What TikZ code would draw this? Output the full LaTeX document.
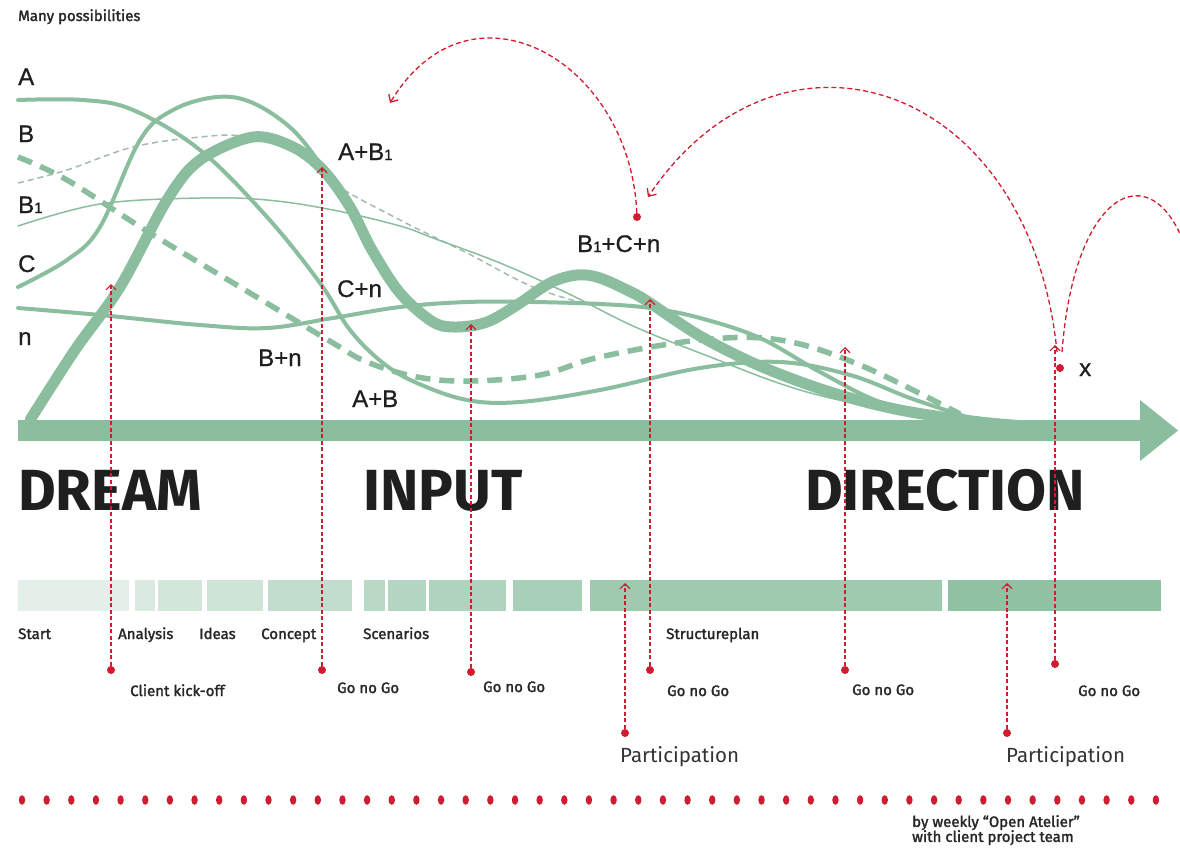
\documentclass[tikz,border=0pt]{standalone}
\usepackage{fontspec}
\setmainfont{Fira Sans}
\newfontfamily\curvefont[FakeBold=0.8]{Liberation Sans}
\newfontfamily\smallfont[FakeBold=1.8]{Fira Sans}
\usetikzlibrary{arrows.meta}
\definecolor{sage}{RGB}{138,190,158}
\definecolor{sagegrey}{RGB}{165,185,175}
\definecolor{redmark}{RGB}{208,28,48}
\newcommand{\one}{{\fontsize{15}{15}\selectfont 1}}

\begin{document}
\begin{tikzpicture}[x=1pt,y=-1pt,
  curve/.style={draw=sage, line width=4pt, line cap=round},
  guide/.style={draw=redmark, line width=1.1pt, dash pattern=on 4pt off 2.5pt, -{Straight Barb[length=5pt,width=10pt]}},
  loopline/.style={draw=redmark, line width=1.3pt, dash pattern=on 5pt off 3pt, -{Straight Barb[length=6pt,width=11pt]}},
  dot/.style={circle, fill=redmark, inner sep=0pt, minimum size=8pt},
  lbl/.style={anchor=base west, inner sep=0pt, font=\smallfont\fontsize{15}{17}\selectfont, text=black!85},
  curvelbl/.style={anchor=base west, inner sep=0pt, font=\curvefont\fontsize{24}{26}\selectfont, text=black!88},
  phase/.style={anchor=base west, inner sep=0pt, font=\fontsize{58}{60}\selectfont\bfseries, text=black!88},
  part/.style={anchor=base west, inner sep=0pt, font=\fontsize{20.5}{22}\selectfont, text=black!80}]
\useasboundingbox (0,0) rectangle (1180,851);
\clip (0,0) rectangle (1180,851);

\node (many)[lbl] at (18,21) {Many possibilities};

\draw[draw=sagegrey, line width=1.5pt, dash pattern=on 6pt off 4pt] plot[smooth, tension=0.6] coordinates {(18,183) (67,170) (133,147) (200,137) (243,136) (293,147) (333,183) (400,220) (467,253) (533,287) (590,305)};
\draw[curve, line width=1.5pt] plot[smooth, tension=0.6] coordinates {(18,226) (100,204) (200,198) (267,200) (333,210) (400,226) (433,238) (500,263) (567,293) (633,326) (700,353) (800,390) (900,412) (990,424)};
\draw[curve, line width=5.5pt, line cap=butt, dash pattern=on 15pt off 9pt] plot[smooth, tension=0.6] coordinates {(18,157) (67,180) (150,233) (250,293) (333,343) (367,362) (417,377) (470,381) (540,375) (600,357) (700,340) (780,340) (860,365) (960,414)};
\draw[curve] plot[smooth, tension=0.6] coordinates {(18,100) (83,100) (133,110) (200,150) (267,217) (320,283) (350,330) (383,363) (417,383) (467,400) (520,402) (600,390) (700,368) (780,362) (850,375) (910,398) (970,418)};
\draw[curve] plot[smooth, tension=0.6] coordinates {(18,287) (67,260) (100,227) (140,140) (173,110) (217,97) (253,103) (293,130) (323,168)};
\draw[curve] plot[smooth, tension=0.6] coordinates {(18,308) (100,315) (200,325) (267,328) (333,318) (400,307) (467,302) (533,302) (600,304) (650,308) (700,318) (760,338) (820,372) (880,402) (950,420)};
\draw[curve, line width=11pt] plot[smooth, tension=0.55] coordinates {(30,420) (75,350) (120,287) (167,200) (200,160) (253,137) (293,147) (323,170) (350,207) (372,250) (400,293) (433,322) (457,327) (487,322) (517,305) (550,283) (577,275) (600,278) (633,293) (650,303) (700,336) (760,366) (830,392) (900,410) (980,422) (1040,427)};

\fill[sage] (18,420) rectangle (1143,441);
\fill[sage] (1140,400) -- (1178,430.5) -- (1140,461) -- cycle;

\node (a)[curvelbl] at (18,85) {A};
\node (b)[curvelbl] at (18,142) {B};
\node (b1)[curvelbl] at (18,213) {B\one};
\node (c)[curvelbl] at (18,272) {C};
\node (n)[curvelbl] at (18,345) {n};
\node (ab1)[curvelbl] at (338,160) {A+B\one};
\node (cn)[curvelbl] at (337,297) {C+n};
\node (bn)[curvelbl] at (258,366) {B+n};
\node (ab)[curvelbl] at (352,407) {A+B};
\node (b1cn)[curvelbl] at (577,252) {B\one+C+n};
\node (x)[curvelbl] at (1079,376) {x};

\node (dream)[phase] at (18,510) {DREAM};
\node (input)[phase] at (363,510) {INPUT};
\node (direction)[phase] at (805,510) {DIRECTION};

\foreach \a/\b/\c in {18/129/24, 135/155/32, 158/202/38, 207/263/42, 268/352/52, 364/385/60, 388/426/64, 429/506/68, 513/582/74, 590/942/82, 948/1161/96}
  \fill[sage!\c!white] (\a,580) rectangle (\b,611);

\node (start)[lbl] at (18,639) {Start};
\node (analysis)[lbl] at (118,639) {Analysis};
\node (ideas)[lbl] at (199,639) {Ideas};
\node (concept)[lbl] at (261,639) {Concept};
\node (scenarios)[lbl] at (363,639) {Scenarios};
\node (structure)[lbl] at (666,639) {Structureplan};

\node (kick)[dot] at (111,670) {};
\node (go1)[dot] at (322,670) {};
\node (go2)[dot] at (471,672) {};
\node (go3)[dot] at (650,670) {};
\node (go4)[dot] at (845,670) {};
\node (go5)[dot] at (1055,664) {};
\node (p1)[dot] at (625,733) {};
\node (p2)[dot] at (1007,733) {};
\coordinate (kickt) at (111,284);
\coordinate (go1t) at (322,167);
\coordinate (go2t) at (471,324);
\coordinate (go3t) at (650,299);
\coordinate (go4t) at (845,347);
\coordinate (go5t) at (1055,345);
\coordinate (p1t) at (625,583);
\coordinate (p2t) at (1007,583);
\draw[guide] (kick) -- (kickt);
\draw[guide] (go1) -- (go1t);
\draw[guide] (go2) -- (go2t);
\draw[guide] (go3) -- (go3t);
\draw[guide] (go4) -- (go4t);
\draw[guide] (go5) -- (go5t);
\draw[guide] (p1) -- (p1t);
\draw[guide] (p2) -- (p2t);

\node (kicklbl)[lbl] at (130,696) {Client kick-off};
\node (go1lbl)[lbl] at (337,693) {Go no Go};
\node (go2lbl)[lbl] at (483,692) {Go no Go};
\node (go3lbl)[lbl] at (667,696) {Go no Go};
\node (go4lbl)[lbl] at (852,695) {Go no Go};
\node (go5lbl)[lbl] at (1078,696) {Go no Go};
\node (p1lbl)[part] at (620,762) {Participation};
\node (p2lbl)[part] at (1006,762) {Participation};

\node (hop)[dot] at (637,217) {};
\node (xdot)[dot] at (1060,368) {};
\coordinate (hopend) at (390,103);
\coordinate (backend) at (648,197);
\coordinate (loopa) at (1057,352);
\coordinate (loopb) at (1062,352);
\coordinate (onward) at (1190,262);
\draw[loopline] (hop) .. controls (630,60) and (470,-30) .. (hopend);
\draw[loopline] (loopa) .. controls (1030,80) and (780,0) .. (backend);
\draw[loopline, -] (loopb) .. controls (1075,180) and (1160,150) .. (onward);

\foreach \i in {0,...,46}
  \fill[redmark] ({22+\i*24.65},800) ellipse (3.2pt and 4.8pt);

\node (weekly)[lbl, align=left, anchor=north west] at (912,815) {by weekly “Open Atelier”\\[-2pt]with client project team};
\end{tikzpicture}
\end{document}
